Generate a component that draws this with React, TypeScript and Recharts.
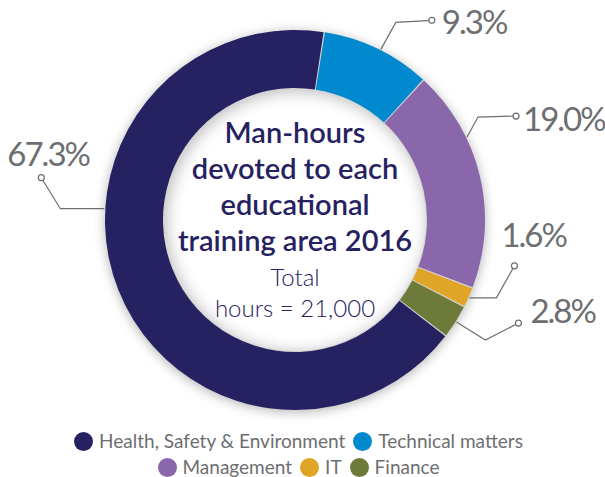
import { PieChart, Pie, Cell, Legend } from 'recharts'

const areas = ['Health, Safety & Environment', 'Technical matters', 'Management', 'IT', 'Finance']
const shares = [67.3, 9.3, 19.0, 1.6, 2.8]
const shareLabels = ['67.3%', '9.3%', '19.0%', '1.6%', '2.8%']
const colors = ['#262262', '#0089cf', '#8a66aa', '#e0a526', '#6e7a3a']
const titleLines = ['Man-hours', 'devoted to each', 'educational', 'training area 2016']
const totalLines = ['Total', 'hours = 21,000']

const data = areas.map((name, i) => ({ name, value: shares[i] }))

// leader line layout per slice: angle shift, elbow / end offsets from the ring edge, text offset from end
const leaders = [
  { shift: -25.2, elbow: [-44, 0], end: [-63, -31], text: [-34, -12] },
  { shift: -1, elbow: [15, -27], end: [51, -29], text: [10, 14] },
  { shift: 12.5, elbow: [11, -20], end: [49, -21], text: [7, 15] },
  { shift: 0, elbow: [27, 0], end: [45, -32], text: [-13, -19] },
  { shift: 0, elbow: [29, 18], end: [62, 1], text: [12, 0] },
]

const CX = 295
const CY = 220
const INNER = 132
const OUTER = 190
const GREY = '#6d6e71'
const NAVY = '#262262'
const FONT = 'Lato, "Open Sans", sans-serif'
const RAD = Math.PI / 180

function renderLeader(props: any) {
  const { cx, cy, midAngle, outerRadius, index } = props
  const l = leaders[index]
  const a = (midAngle + l.shift) * RAD
  const sx = cx + (outerRadius + 1) * Math.cos(a)
  const sy = cy - (outerRadius + 1) * Math.sin(a)
  const ex = sx + l.end[0]
  const ey = sy + l.end[1]
  const pts = `${sx},${sy} ${sx + l.elbow[0]},${sy + l.elbow[1]} ${ex},${ey}`
  return (
    <g key={`leader-${index}`}>
      <polyline points={pts} fill="none" stroke={GREY} strokeWidth={1.2} />
      <circle cx={ex} cy={ey} r={3} fill="#fff" stroke={GREY} strokeWidth={1.2} />
      <text
        x={ex + l.text[0]}
        y={ey + l.text[1]}
        fill={GREY}
        fontFamily={FONT}
        fontWeight={400}
        fontSize={33}
        letterSpacing={-2}
        textAnchor="start"
      >
        {shareLabels[index]}
      </text>
    </g>
  )
}

function renderLegend(props: any) {
  const items = [...(props.payload || [])].sort(
    (a: any, b: any) => areas.indexOf(a.value) - areas.indexOf(b.value)
  )
  return (
    <div
      style={{
        width: 470,
        margin: '0 auto',
        display: 'flex',
        flexWrap: 'wrap',
        justifyContent: 'center',
        rowGap: 4,
        fontFamily: FONT,
        fontSize: 19,
        color: GREY,
        lineHeight: '22px',
      }}
    >
      {items.map((e: any) => (
        <span key={e.value} style={{ display: 'inline-flex', alignItems: 'center', marginRight: 8 }}>
          <span
            style={{ width: 19, height: 19, borderRadius: '50%', background: e.color, marginRight: 6, display: 'inline-block' }}
          />
          {e.value}
        </span>
      ))}
    </div>
  )
}

export default function App() {
  return (
    <div style={{ position: 'absolute', left: 0, top: 0, width: 605, height: 477, background: '#fff', overflow: 'hidden' }}>
      <div
        style={{
          position: 'absolute',
          left: CX - OUTER,
          top: CY - OUTER,
          width: OUTER * 2,
          height: OUTER * 2,
          borderRadius: '50%',
          background: '#d4d4d4',
          boxShadow: '0 2px 12px rgba(0,0,0,0.3)',
        }}
      />
      <div
        style={{
          position: 'absolute',
          left: CX - INNER + 1,
          top: CY - INNER + 1,
          width: INNER * 2 - 2,
          height: INNER * 2 - 2,
          borderRadius: '50%',
          background: '#fff',
          boxShadow: 'inset 2px 2px 16px rgba(0,0,0,0.28)',
        }}
      />
      <div style={{ position: 'absolute', left: 0, top: 0 }}>
        <PieChart width={605} height={477} margin={{ top: 0, right: 0, bottom: 0, left: 0 }}>
          <Pie
            data={data}
            dataKey="value"
            nameKey="name"
            cx={CX}
            cy={CY}
            innerRadius={INNER}
            outerRadius={OUTER}
            startAngle={-37.72}
            endAngle={-397.72}
            paddingAngle={0.4}
            stroke="none"
            label={renderLeader}
            labelLine={false}
            isAnimationActive={false}
          >
            {data.map((d, i) => (
              <Cell key={d.name} fill={colors[i]} />
            ))}
          </Pie>
          <Legend content={renderLegend} wrapperStyle={{ left: 0, top: 430, width: 605 }} />
        </PieChart>
      </div>
      <div
        style={{
          position: 'absolute',
          left: CX - 150,
          top: 114,
          width: 300,
          textAlign: 'center',
          fontFamily: FONT,
          color: NAVY,
        }}
      >
        {titleLines.map((t) => (
          <div key={t} style={{ fontSize: 29, lineHeight: '36px', fontWeight: 600 }}>
            {t}
          </div>
        ))}
        <div style={{ height: 3 }} />
        {totalLines.map((t) => (
          <div key={t} style={{ fontSize: 24, lineHeight: '31px', fontWeight: 300 }}>
            {t}
          </div>
        ))}
      </div>
    </div>
  )
}
